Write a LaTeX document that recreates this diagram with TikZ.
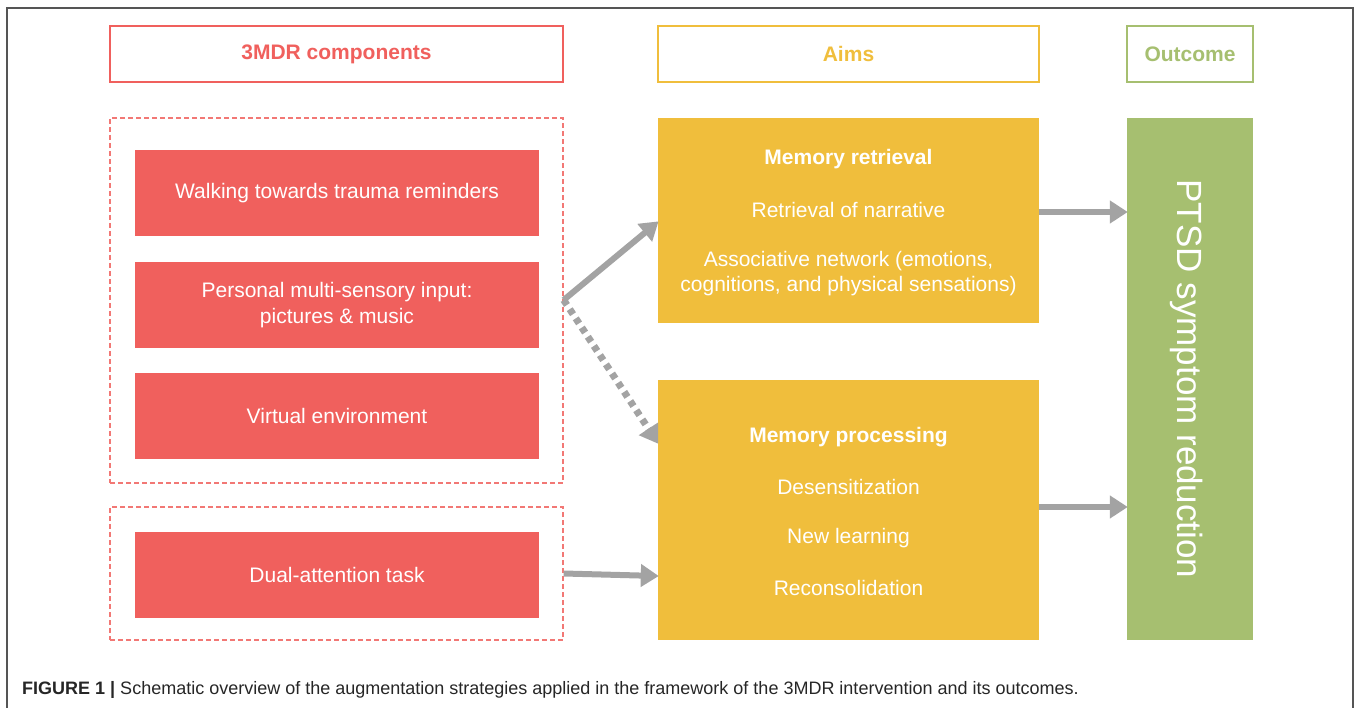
\documentclass[tikz,border=0pt]{standalone}
\usepackage{fontspec}
\setmainfont{Liberation Sans}
\usetikzlibrary{arrows.meta}
\definecolor{cred}{HTML}{F0605D}
\definecolor{cyel}{HTML}{F0BE3C}
\definecolor{cgrn}{HTML}{A6BF70}
\definecolor{carr}{HTML}{A3A3A3}
\definecolor{cframe}{HTML}{555555}
\tikzset{
  hdr/.style={draw=#1, line width=1.5pt, fill=white, minimum height=56pt, font=\fontsize{21}{24}\selectfont\bfseries, text=#1, inner sep=0pt},
  redbox/.style={fill=cred, minimum width=404pt, minimum height=86pt, text=white, font=\fontsize{21}{26}\selectfont, align=center, inner sep=0pt},
  dbox/.style={draw=cred!85, dashed, dash pattern=on 5pt off 3pt, line width=1.3pt, minimum width=453pt, inner sep=0pt},
  ybox/.style={fill=cyel, minimum width=381pt, inner sep=0pt},
  wtxt/.style={text=white, font=\fontsize{21}{26}\selectfont, inner sep=0pt},
  wbold/.style={text=white, font=\fontsize{21}{26}\selectfont\bfseries, inner sep=0pt},
  conn/.style={draw=carr, line width=6pt, -{Triangle[length=18pt,width=22pt]}, shorten >=-1pt},
  dconn/.style={draw=carr, line width=7pt, dash pattern=on 6pt off 5pt, -{Triangle[length=18pt,width=22pt]}, shorten >=-1pt},
}
\begin{document}
\begin{tikzpicture}[x=1pt,y=-1pt]
\useasboundingbox (0,0) rectangle (1358,708);
% frame
\draw[cframe, line width=1.6pt] (7,708) -- (7,8) -- (1353,8) -- (1353,708);
% headers
\node[hdr=cred, minimum width=453pt] (h1) at (336.5,54) {3MDR components};
\node[hdr=cyel, minimum width=381pt] (h2) at (848.5,54) {Aims};
\node[hdr=cgrn, minimum width=126pt] (h3) at (1190,54) {Outcome};
% dashed groups
\node[dbox, minimum height=365pt] (g1) at (336.5,300.5) {};
\node[dbox, minimum height=133pt] (g2) at (336.5,573.5) {};
% red components
\node[redbox] (c1) at (337,193) {Walking towards trauma reminders};
\node[redbox] (c2) at (337,305) {Personal multi-sensory input:\\pictures \& music};
\node[redbox] (c3) at (337,416) {Virtual environment};
\node[redbox] (c4) at (337,575) {Dual-attention task};
% aims
\node[ybox, minimum height=205pt] (ret) at (848.5,220.5) {};
\node[wbold] (ret0) at (848.5,159) {Memory retrieval};
\node[wtxt] (ret1) at (848.5,210) {Retrieval of narrative};
\node[wtxt] (ret2) at (848.5,261) {Associative network (emotions,};
\node[wtxt] (ret3) at (848.5,286) {cognitions, and physical sensations)};
\node[ybox, minimum height=260pt] (proc) at (848.5,510) {};
\node[wbold] (proc0) at (848.5,437) {Memory processing};
\node[wtxt] (proc1) at (848.5,487) {Desensitization};
\node[wtxt] (proc2) at (848.5,538) {New learning};
\node[wtxt] (proc3) at (848.5,588) {Reconsolidation};
% outcome
\node[fill=cgrn, minimum width=126pt, minimum height=522pt, inner sep=0pt] (out) at (1190,379) {};
\node[rotate=-90, text=white, font=\fontsize{35}{40}\selectfont, inner sep=0pt] (outt) at (1187,379) {PTSD symptom reduction};
% connectors
\coordinate (s1) at (g1.east |- 0,300);
\coordinate (t1) at (ret.west |- 0,222);
\coordinate (t2) at (proc.west |- 0,443);
\coordinate (t3) at (proc.west |- 0,576);
\coordinate (r1) at (ret.east |- 0,212);
\coordinate (o1) at (out.west |- 0,212);
\coordinate (r2) at (proc.east |- 0,507);
\coordinate (o2) at (out.west |- 0,507);
\draw[conn] (s1) -- (t1);
\draw[dconn] (s1) -- (t2);
\draw[conn] (g2.east) -- (t3);
\draw[conn] (r1) -- (o1);
\draw[conn] (r2) -- (o2);
% caption
\node[anchor=west, inner sep=0pt, text=black!85] (cap) at (22,690) {\fontsize{18}{20}\selectfont\textbf{FIGURE 1 |} Schematic overview of the augmentation strategies applied in the framework of the 3MDR intervention and its outcomes.};
\end{tikzpicture}
\end{document}
